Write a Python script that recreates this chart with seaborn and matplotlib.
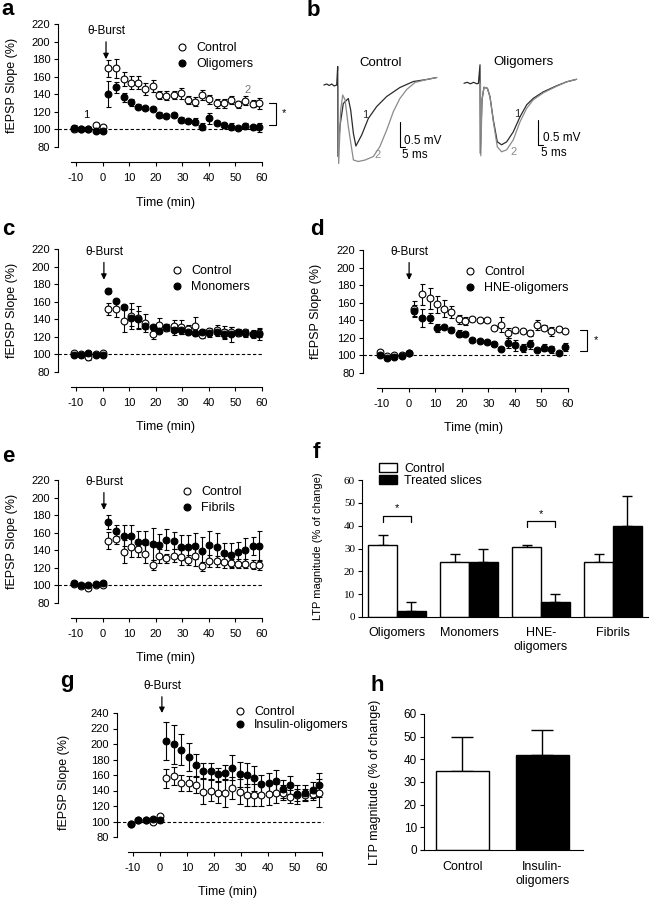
import pandas as pd
import seaborn as sns
import matplotlib.pyplot as plt
from matplotlib.lines import Line2D

sns.set_theme(style="ticks")
plt.rcParams["font.family"] = ["Liberation Sans", "DejaVu Sans"]
plt.rcParams.update({
    "axes.edgecolor": "black", "axes.linewidth": 0.8,
    "xtick.color": "black", "ytick.color": "black",
    "text.color": "black", "axes.labelcolor": "black",
    "axes.unicode_minus": False,
})

# ---- data ----
times = [-10.8, -8.0, -5.3, -2.6, 0.0, 2.2, 5.0, 7.9, 10.6, 13.4, 16.1, 18.8, 21.4, 24.0,
         26.7, 29.5, 32.3, 34.9, 37.5, 40.2, 42.9, 45.7, 48.3, 50.9, 53.7, 56.5, 59.0]

a_ctrl = [100, 101, 100, 105, 103, 169.6, 169.6, 157, 153.3, 153.3, 145.7, 149.4, 139.2, 138.4,
          139.2, 141.1, 133.5, 131.6, 139.2, 134.3, 129.7, 129.7, 133.5, 128.6, 132.7, 129.3, 129.7]
a_ctrl_err = [3, 2, 2, 2, 2, 9.5, 11, 8, 7, 7, 7, 7, 5, 5, 5, 6, 5, 5, 6, 5, 5, 5, 5, 4, 5, 4, 6]
a_olig = [102, 101, 100.5, 98.5, 98.5, 140.3, 148, 136.6, 130.9, 125.9, 124, 122.9, 116.4, 115.7,
          116.4, 110.7, 109.9, 108.8, 103.1, 112.7, 107.7, 104.7, 103.1, 101.3, 103.9, 102.4, 102.4]
a_olig_err = [3, 2, 2, 2, 2, 15, 6, 5, 4, 3, 2, 2, 3, 2, 2, 3, 2, 4, 4, 6, 2, 3, 4, 2, 3, 3, 5]

c_ctrl = [102, 100, 97, 100, 101.8, 151.4, 151.4, 138.4, 144, 141.8, 136, 122.7, 133.4, 130.4,
          132.3, 131.5, 128.5, 132.3, 122, 126.6, 127.5, 125.5, 126, 124.7, 125, 123.5, 124.7]
c_ctrl_err = [2, 2, 3, 2, 2, 7, 9, 13, 15, 13, 10, 5, 8, 4, 7, 8, 5, 10, 3, 4, 6, 7, 5, 4, 4, 4, 5]
c_mono = [99.8, 99, 102, 99.8, 99.8, 172.7, 161.3, 153.7, 142, 140, 132.7, 130.8, 127, 130.8,
          127.7, 127.7, 125.8, 124, 125, 124, 125.8, 123, 122.7, 125, 124, 122.7, 122.7]
c_mono_err = [2, 2, 2, 2, 2, 3, 2, 3, 10, 10, 4, 3, 2, 4, 6, 5, 3, 3, 4, 4, 3, 6, 8, 4, 4, 4, 6]

d_ctrl = [104, 99, 100, 101, 103, 153.4, 169.4, 164.8, 158, 153.4, 149.6, 140.9, 139.3, 142,
          140.1, 140.1, 131.7, 135.2, 125.6, 128.7, 127.5, 125.6, 134.4, 131.7, 127.5, 130.6, 127.9]
d_ctrl_err = [2, 2, 2, 2, 2, 8, 12, 12, 10, 10, 7, 5, 5, 2, 2, 2, 2, 9, 6, 3, 2, 3, 6, 3, 5, 2, 2]
d_hne = [100, 97, 98.5, 99, 103, 150.4, 142.8, 142.8, 131.3, 132.5, 129.4, 124.9, 124.9, 117.3,
         116.1, 115.4, 112.7, 107.8, 114.2, 111.6, 108.5, 112.7, 106.6, 108.5, 107, 102.8, 109.7]
d_hne_err = [2, 2, 2, 2, 2, 7, 10, 6, 5, 2, 3, 4, 2, 2, 2, 2, 2, 2, 6, 6, 5, 5, 2, 4, 4, 2, 5]

e_ctrl = [102, 99, 97, 100.8, 100, 151, 152.6, 138.6, 144.3, 141.6, 136, 123.5, 133.7, 131,
          134, 131.8, 129.1, 133.7, 121.6, 128, 127.3, 126.5, 125.4, 124.6, 124.6, 123.5, 123.5]
e_ctrl_err = [2, 2, 2, 2, 2, 10, 6, 13, 12, 9, 10, 6, 8, 5, 7, 8, 6, 12, 5, 7, 6, 7, 5, 5, 5, 5, 6]
e_fib = [102.6, 100, 100, 102, 102.6, 172.7, 162.5, 156.8, 156.8, 150, 150, 147.3, 146.2, 151.9,
         151, 143.5, 143.5, 145, 139.7, 146.2, 144.3, 136.7, 134.8, 137.5, 140.5, 145, 145]
e_fib_err = [2, 2, 2, 2, 2, 8, 6, 12, 12, 12, 12, 18, 12, 12, 10, 14, 14, 15, 15, 16, 15, 12, 14, 12, 14, 10, 17]

g_ctrl = [97, 102, 102, 99, 106.5, 155.7, 158.7, 150, 149.3, 147.2, 138.6, 139.9, 137.3, 137.3,
          142.9, 138.6, 134.3, 134.3, 134.3, 135.2, 136.5, 137.3, 132.2, 134.3, 134.3, 135.2, 136.5]
g_ctrl_err = [2, 2, 2, 2, 2, 12, 12, 10, 10, 10, 16, 14, 14, 18, 14, 16, 14, 14, 14, 14, 12, 10, 8, 8, 8, 8, 18]
g_ins = [96.7, 102, 102, 103, 101.4, 204, 199.8, 192.9, 183.5, 172.8, 165.6, 165.1, 160.9, 163,
         169.4, 160.9, 160, 155.7, 148, 150.2, 152.7, 142, 147.2, 135.2, 137.3, 140.7, 147.2]
g_ins_err = [2, 2, 2, 2, 2, 25, 25, 20, 18, 14, 10, 10, 8, 10, 16, 16, 16, 16, 12, 12, 14, 12, 12, 12, 10, 10, 15]

# panel b traces: ms from stimulus, mV from baseline
base_t = [-13.8, -11, -8.5, -6, -3.5, -1]
base_v = [0.0, 0.02, -0.01, 0.02, -0.02, 0.0]
ctl1_t = [0, 0.3, 2.2, 5.6, 10.6, 13, 15.7, 18.2, 24, 30.6, 39, 49, 62.2, 75.7, 89, 99]
ctl1_v = [0.37, -1.43, -0.83, -0.37, -0.27, -0.5, -0.97, -1.22, -1.0, -0.67, -0.43, -0.23,
          -0.05, 0.07, 0.11, 0.15]
ctl2_t = [0.6, 1.0, 3.0, 5.0, 7.4, 10.6, 15.7, 20.6, 27.4, 35.7, 42.2, 49, 55.7, 62.2, 69, 77.3, 89, 99]
ctl2_v = [-0.03, -1.57, -0.5, -0.2, -0.3, -0.83, -1.5, -1.53, -1.5, -1.43, -1.23, -0.9, -0.53,
          -0.27, -0.09, 0.05, 0.11, 0.15]
ol1_t = [-16, -12.8, -9.6, -6.4, -3.2, -1.6, 0, 0.3, 2, 4, 7.4, 10, 13.3, 17.3, 21.6, 26.7,
         33.3, 40, 46.7, 53.3, 63.4, 76.6, 86.7, 96.6]
ol1_v = [0, 0.02, -0.01, 0.02, -0.01, 0, 0.37, -1.4, -0.33, -0.08, -0.1, -0.27, -0.73, -1.17,
         -1.23, -1.17, -0.97, -0.67, -0.43, -0.3, -0.17, -0.05, 0.03, 0.08]
ol2_t = [0.5, 0.8, 2, 4, 7.4, 10, 13.3, 17.3, 21.6, 26.7, 33.3, 40, 46.7, 53.3, 63.4, 76.6, 86.7, 96.6]
ol2_v = [0.0, -1.45, -0.33, -0.08, -0.1, -0.27, -0.76, -1.27, -1.37, -1.33, -1.13, -0.77, -0.5,
         -0.33, -0.19, -0.06, 0.03, 0.08]

f_groups = ["Oligomers", "Monomers", "HNE-\noligomers", "Fibrils"]
f_ctrl = [31.5, 24.0, 30.5, 24.0]
f_ctrl_err = [4.4, 3.6, 1.0, 3.6]
f_treat = [2.6, 24.2, 6.7, 40.0]
f_treat_err = [4.1, 5.6, 3.2, 13.0]

h_groups = ["Control", "Insulin-\noligomers"]
h_vals = [35.0, 41.9]
h_errs = [15.0, 11.0]

# ---- figure ----
W, H = 652, 899
fig = plt.figure(figsize=(W / 100, H / 100), dpi=100)


def box(x0, y0, x1, y1):
    return [x0 / W, 1 - y1 / H, (x1 - x0) / W, (y1 - y0) / H]


def put(x, y, s, **kw):
    fig.text(x / W, 1 - y / H, s, **kw)


def time_panel(xm10, x60, xax, ytop, y80, yxax, vtop, ctrl, ctrl_err, treat, treat_err, cap=1.8):
    ppm = (x60 - xm10) / 70
    ppu = (y80 - ytop) / (vtop - 80)
    x_lo = -10 - (xm10 - xax) / ppm
    x_hi = 61.5
    y_lo = 80 - (yxax - y80) / ppu
    y_hi = vtop + 4 / ppu
    right = xm10 + (x_hi + 10) * ppm
    ax = fig.add_axes(box(xax, ytop - 4, right, yxax))
    ax.set_xlim(x_lo, x_hi)
    ax.set_ylim(y_lo, y_hi)
    ax.hlines(100, x_lo, 60.5, colors="black", linestyles=(0, (3, 2)), linewidth=0.8, zorder=1)
    for vals, errs, face in [(ctrl, ctrl_err, "white"), (treat, treat_err, "black")]:
        ax.errorbar(times, vals, yerr=errs, fmt="none", ecolor="black", elinewidth=0.8,
                    capsize=cap, capthick=0.8, zorder=2)
        sns.scatterplot(x=times, y=vals, ax=ax, s=24, color=face, edgecolor="black",
                        linewidth=0.8, zorder=3, clip_on=False)
    sns.despine(ax=ax)
    ax.spines["left"].set_bounds(80, vtop)
    ax.spines["bottom"].set_bounds(-12, 60)
    ax.set_yticks(range(80, vtop + 1, 20))
    ax.set_xticks(range(-10, 61, 10))
    ax.tick_params(length=3, width=0.8, labelsize=8, pad=2.5)
    ax.tick_params(axis="x", pad=5)
    return ax


def legend_at(ax, labels, mx, y1, y2, spacing):
    handles = [Line2D([], [], ls="", marker="o", ms=5, mfc="white", mec="black", mew=0.8),
               Line2D([], [], ls="", marker="o", ms=5, mfc="black", mec="black", mew=0.8)]
    ax.legend(handles, labels, loc="center left",
              bbox_to_anchor=((mx - 5) / W, 1 - (y1 + y2) / 2 / H),
              bbox_transform=fig.transFigure, frameon=False, fontsize=9, handlelength=0.8,
              handletextpad=0.72, labelspacing=spacing, borderpad=0, borderaxespad=0)


def burst(ax, t, tip, txt):
    ax.annotate("θ-Burst", xy=(t, tip), xytext=(t, txt), ha="center", va="bottom", fontsize=8.5,
                annotation_clip=False,
                arrowprops=dict(arrowstyle="-|>", color="black", lw=0.9, shrinkA=1, shrinkB=0,
                                mutation_scale=8))


def bracket(ax, t0, t1, top, bottom, star_t, star_v):
    ax.plot([t0, t1, t1, t0], [top, top, bottom, bottom], color="black", lw=0.8, clip_on=False)
    ax.text(star_t, star_v, "*", fontsize=8, ha="center", va="center", clip_on=False)


# panel a
ax_a = time_panel(76, 262, 58, 24, 147, 162, 220, a_ctrl, a_ctrl_err, a_olig, a_olig_err)
burst(ax_a, 1.3, 180, 205)
legend_at(ax_a, ["Control", "Oligomers"], 182, 47, 65, 0.32)
ax_a.text(-6.2, 116.4, "1", fontsize=8, ha="center", va="center")
ax_a.text(54.7, 145, "2", fontsize=8, ha="center", va="center", color="#777777")
bracket(ax_a, 62.6, 65.3, 130, 105, 68.3, 118.7)
put(12, 85, "fEPSP Slope (%)", rotation=90, ha="center", va="center", fontsize=9)
put(166, 203, "Time (min)", ha="center", va="center", fontsize=9)

# panel c
ax_c = time_panel(76, 262, 58, 249, 372, 387, 220, c_ctrl, c_ctrl_err, c_mono, c_mono_err)
burst(ax_c, 0.5, 185, 210)
legend_at(ax_c, ["Control", "Monomers"], 177, 270, 288, 0.32)
put(12, 310, "fEPSP Slope (%)", rotation=90, ha="center", va="center", fontsize=9)
put(166, 427, "Time (min)", ha="center", va="center", fontsize=9)

# panel d
ax_d = time_panel(382, 568, 363, 250, 373, 388, 220, d_ctrl, d_ctrl_err, d_hne, d_hne_err)
burst(ax_d, 0.2, 186, 211)
legend_at(ax_d, ["Control", "HNE-oligomers"], 470, 271, 289, 0.32)
bracket(ax_d, 64.5, 67.1, 129, 105, 70.5, 117.5)
put(316, 311, "fEPSP Slope (%)", rotation=90, ha="center", va="center", fontsize=9)
put(473, 428, "Time (min)", ha="center", va="center", fontsize=9)

# panel e
ax_e = time_panel(76, 262, 58, 480, 603, 618, 220, e_ctrl, e_ctrl_err, e_fib, e_fib_err)
burst(ax_e, 0.5, 186, 211)
legend_at(ax_e, ["Control", "Fibrils"], 187, 491, 509, 0.32)
put(12, 541, "fEPSP Slope (%)", rotation=90, ha="center", va="center", fontsize=9)
put(166, 658, "Time (min)", ha="center", va="center", fontsize=9)

# panel g
ax_g = time_panel(133, 322, 117, 713, 837, 852, 240, g_ctrl, g_ctrl_err, g_ins, g_ins_err, cap=2.5)
burst(ax_g, 0.7, 240, 267)
legend_at(ax_g, ["Control", "Insulin-oligomers"], 240, 711, 726, 0.1)
put(64, 782, "fEPSP Slope (%)", rotation=90, ha="center", va="center", fontsize=9)
put(227, 892, "Time (min)", ha="center", va="center", fontsize=9)

# panel b traces
dark, grey = "#2b2b2b", "#8a8a8a"
ax_b1 = fig.add_axes(box(320, 60, 445, 170))
sns.lineplot(x=base_t + ctl1_t, y=base_v + ctl1_v, ax=ax_b1, color=dark, lw=0.9, sort=False, estimator=None)
sns.lineplot(x=ctl2_t, y=ctl2_v, ax=ax_b1, color=grey, lw=0.9, sort=False, estimator=None)
ax_b1.set_xlim(-17.7, 107.3)
ax_b1.set_ylim(-1.7, 0.5)
ax_b1.plot([62.3, 62.3, 67.3], [-0.74, -1.24, -1.24], color="black", lw=0.8)
ax_b1.text(66.3, -1.12, "0.5 mV", fontsize=8.5, va="center")
ax_b1.text(64.3, -1.4, "5 ms", fontsize=8.5, va="center")
ax_b1.text(27.5, -0.6, "1", fontsize=8, ha="center", va="center", color=dark)
ax_b1.text(39.6, -1.4, "2", fontsize=8, ha="center", va="center", color=grey)
ax_b1.set_axis_off()

ax_b2 = fig.add_axes(box(462, 60, 590, 170))
sns.lineplot(x=ol1_t, y=ol1_v, ax=ax_b2, color=dark, lw=0.9, sort=False, estimator=None)
sns.lineplot(x=ol2_t, y=ol2_v, ax=ax_b2, color=grey, lw=0.9, sort=False, estimator=None)
ax_b2.set_xlim(-18, 110)
ax_b2.set_ylim(-1.734, 0.466)
ax_b2.plot([58, 58, 63], [-0.734, -1.234, -1.234], color="black", lw=0.8)
ax_b2.text(63, -1.094, "0.5 mV", fontsize=8.5, va="center")
ax_b2.text(61, -1.394, "5 ms", fontsize=8.5, va="center")
ax_b2.text(37.3, -0.61, "1", fontsize=8, ha="center", va="center", color=dark)
ax_b2.text(33.3, -1.37, "2", fontsize=8, ha="center", va="center", color=grey)
ax_b2.set_axis_off()
put(381, 63, "Control", ha="center", va="center", fontsize=9.5)
put(523, 62, "Oligomers", ha="center", va="center", fontsize=9.5)

# panel f
f_df = pd.DataFrame({
    "group": f_groups * 2,
    "cond": ["Control"] * 4 + ["Treated slices"] * 4,
    "ltp": f_ctrl + f_treat,
})
ax_f = fig.add_axes(box(362, 480, 648, 617))
sns.barplot(data=f_df, x="group", y="ltp", hue="cond", palette=["white", "black"],
            edgecolor="black", linewidth=1.0, width=0.8, saturation=1, errorbar=None, ax=ax_f)
for cont, errs in zip(ax_f.containers, [f_ctrl_err, f_treat_err]):
    xs = [b.get_x() + b.get_width() / 2 for b in cont]
    ys = [b.get_height() for b in cont]
    ax_f.errorbar(xs, ys, yerr=[[0] * len(errs), errs], fmt="none", ecolor="black",
                  elinewidth=1, capsize=3.6, capthick=1, zorder=0.5)
for i, top, leg, sv in [(0, 44.2, 41.6, 47.5), (2, 42.0, 39.4, 45.0)]:
    x0 = ax_f.containers[0][i].get_x() + ax_f.containers[0][i].get_width() / 2
    x1 = ax_f.containers[1][i].get_x() + ax_f.containers[1][i].get_width() / 2
    ax_f.plot([x0, x0, x1, x1], [leg, top, top, leg], color="black", lw=0.9)
    ax_f.text((x0 + x1) / 2, sv, "*", fontsize=8, ha="center", va="center")
ax_f.get_legend().remove()
ax_f.legend([ax_f.containers[0][0], ax_f.containers[1][0]], ["Control", "Treated slices"],
            loc="upper left", bbox_to_anchor=(379 / W, 1 - 463 / H), bbox_transform=fig.transFigure,
            frameon=False, fontsize=9, handlelength=1.45, handleheight=0.72, handletextpad=0.55,
            labelspacing=0.0, borderpad=0, borderaxespad=0)
ax_f.set_xlim(-0.486, 3.486)
ax_f.set_ylim(0, 60)
ax_f.set_yticks(range(0, 61, 10))
ax_f.set_xlabel("")
ax_f.set_ylabel("")
sns.despine(ax=ax_f)
ax_f.tick_params(axis="y", length=3, width=0.8, labelsize=8, pad=2)
ax_f.tick_params(axis="x", length=0, labelsize=9, pad=7)
for lbl in ax_f.get_yticklabels():
    lbl.set_fontfamily("Liberation Serif")
put(318, 546, "LTP magnitude (% of change)", rotation=90, ha="center", va="center", fontsize=8)

# panel h
h_df = pd.DataFrame({"cond": h_groups, "ltp": h_vals})
ax_h = fig.add_axes(box(424, 714, 583, 850))
sns.barplot(data=h_df, x="cond", y="ltp", hue="cond", palette=["white", "black"],
            edgecolor="black", linewidth=1.0, width=0.66, saturation=1, legend=False,
            errorbar=None, ax=ax_h)
hx = [b.get_x() + b.get_width() / 2 for b in ax_h.patches]
hy = [b.get_height() for b in ax_h.patches]
ax_h.errorbar(hx, hy, yerr=[[0] * len(h_errs), h_errs], fmt="none", ecolor="black",
              elinewidth=1, capsize=8, capthick=1, zorder=0.5)
ax_h.set_xlim(-0.48, 1.506)
ax_h.set_ylim(0, 60)
ax_h.set_yticks(range(0, 61, 10))
ax_h.set_xlabel("")
ax_h.set_ylabel("")
sns.despine(ax=ax_h)
ax_h.tick_params(axis="y", length=3, width=0.8, labelsize=8.5, pad=2)
ax_h.tick_params(axis="x", length=0, labelsize=9, pad=8)
put(375, 782, "LTP magnitude (% of change)", rotation=90, ha="center", va="center", fontsize=9)

# panel letters
for x, y, s in [(1, 15, "a"), (307, 16, "b"), (2, 235, "c"), (310, 235, "d"),
                (2, 462, "e"), (313, 458, "f"), (60, 687, "g"), (370, 691, "h")]:
    put(x, y, s, fontsize=16, fontweight="bold", ha="left", va="baseline")

fig.savefig("out.png", dpi=100)
